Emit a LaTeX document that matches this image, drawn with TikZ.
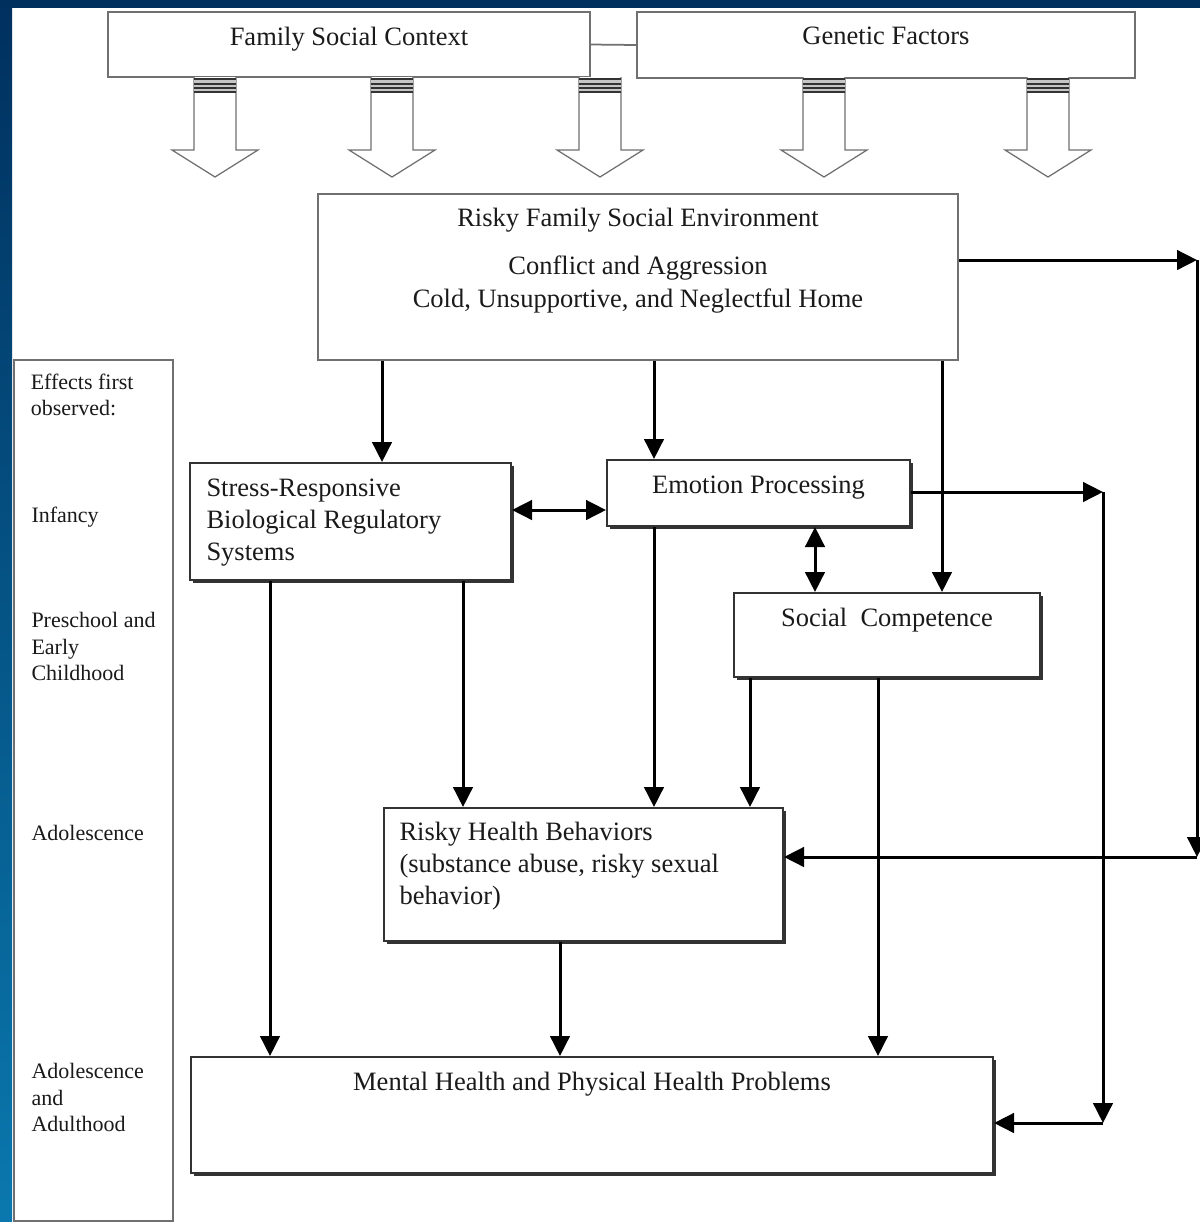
\documentclass[tikz,border=0pt]{standalone}
\usepackage{fontspec}
\setmainfont{Liberation Serif}
\usetikzlibrary{positioning, arrows.meta, fit, shadows}
\definecolor{slidenavy}{HTML}{00305E}
\definecolor{slideblue}{HTML}{0A78AE}
\definecolor{boxline}{HTML}{333333}
\definecolor{frameline}{HTML}{707070}
\definecolor{inkblack}{HTML}{1A1A1A}

\begin{document}
\begin{tikzpicture}[
    x=0.4pt, y=-0.4pt,
    font=\fontsize{10.6}{12.8}\selectfont,
    every node/.style={inner sep=0pt, text=inkblack},
    topbox/.style={draw=frameline, line width=0.7pt, fill=white},
    box/.style={
        draw=boxline, line width=0.8pt, fill=white,
        drop shadow={shadow xshift=1.1pt, shadow yshift=-1.1pt, fill=black!80, opacity=1}
    },
    panel/.style={draw=frameline, line width=0.6pt, fill=white},
    fatarrow/.style={draw=frameline, line width=0.5pt, fill=white},
    arrow/.style={
        -{Triangle[length=8pt, width=7.8pt]},
        line width=1.2pt, draw=black
    },
    twoway/.style={
        {Triangle[length=8pt, width=7.8pt]}-{Triangle[length=8pt, width=7.8pt]},
        line width=1.2pt, draw=black
    },
    link/.style={draw=frameline, line width=0.7pt},
    stagelabel/.style={font=\fontsize{8.8}{10.6}\selectfont, align=left}
]

% slide background
\fill[white] (0,0) rectangle (1200,1222);
\fill[slidenavy] (0,0) rectangle (1200,8);
\shade[top color=slidenavy, bottom color=slideblue] (0,0) rectangle (12,1222);
\useasboundingbox (0,0) rectangle (1200,1222);

% sources
\node[topbox, fit={(108,12) (590,77)}] (family) {};
\node[anchor=base] (familytext) at ([yshift=-13.6pt]family.north) {Family Social Context};
\node[topbox, fit={(637,12) (1135,78)}] (genetic) {};
\node[anchor=base] (genetictext) at ([yshift=-13.2pt]genetic.north) {Genetic Factors};
\draw[link] (family.east) -- (genetic.west);

\foreach \ax in {215, 392, 600, 824, 1048} {
    \draw[fatarrow] (\ax-21,77) -- (\ax-21,150) -- (\ax-43,150) -- (\ax,177)
        -- (\ax+43,150) -- (\ax+21,150) -- (\ax+21,77);
    \fill[gray!45] (\ax-21,78) rectangle (\ax+21,93);
    \foreach \sy in {79, 84, 88, 92}
        \draw[boxline, line width=0.5pt] (\ax-21,\sy) -- (\ax+21,\sy);
}

% family environment
\node[topbox, fit={(318,194) (958,360)}] (riskenv) {};
\node[anchor=base] (riskenvtitle) at ([yshift=-13.2pt]riskenv.north) {Risky Family Social Environment};
\node[below=24.8pt of riskenv.north, align=center, font=\fontsize{10.6}{13.2}\selectfont] (riskenvtext)
     {Conflict and Aggression\\Cold, Unsupportive, and Neglectful Home};

% developmental stages
\node[panel, fit={(14,360) (173,1221)}] (stages) {};
\node[stagelabel, below right=5.6pt and 6.8pt of stages.north west] (effects) {Effects first\\observed:};
\node[stagelabel, anchor=base west] (infancy) at (31,522) {Infancy};
\node[stagelabel, anchor=north west] (preschool) at (31,612) {Preschool and\\Early\\Childhood};
\node[stagelabel, anchor=base west] (adolescence) at (31,840) {Adolescence};
\node[stagelabel, anchor=north west] (adulthood) at (31,1063) {Adolescence\\and\\Adulthood};

% mediators and outcomes
\node[box, fit={(190,463) (511,580)}] (stress) {};
\node[below right=6.4pt and 6.8pt of stress.north west, align=left] (stresstext)
     {Stress-Responsive\\Biological Regulatory\\Systems};

\node[box, fit={(607,460) (910,526)}] (emotion) {};
\node[anchor=base] (emotiontext) at ([yshift=-13.6pt]emotion.north) {Emotion Processing};

\node[box, fit={(734,593) (1040,677)}] (social) {};
\node[anchor=base] (socialtext) at ([yshift=-13.6pt]social.north) {Social\ \ Competence};

\node[box, fit={(384,808) (783,941)}] (healthbeh) {};
\node[below right=6pt and 6.4pt of healthbeh.north west, align=left] (healthbehtext)
     {Risky Health Behaviors\\(substance abuse, risky sexual\\behavior)};

\node[box, fit={(191,1057) (993,1173)}] (outcomes) {};
\node[anchor=base] (outcomestext) at ([yshift=-13.6pt]outcomes.north) {Mental Health and Physical Health Problems};

% connector columns and rows
\coordinate (colA) at (270,0);
\coordinate (colB) at (382,0);
\coordinate (colC) at (463,0);
\coordinate (colD) at (560,0);
\coordinate (colE) at (654,0);
\coordinate (colF) at (750,0);
\coordinate (colG) at (815,0);
\coordinate (colH) at (878,0);
\coordinate (colI) at (942,0);
\coordinate (linkrow) at (0,510);
\coordinate (envturn) at (1197,260);
\coordinate (envdown) at (1197,857);
\coordinate (emoturn) at (1103,492);
\coordinate (emodown) at (1103,1123);

\draw[arrow] (riskenv.south -| colB) -- (stress.north -| colB);
\draw[arrow] (riskenv.south -| colE) -- (emotion.north -| colE);
\draw[arrow] (riskenv.south -| colI) -- (social.north -| colI);

\draw[twoway] (stress.east |- linkrow) -- (emotion.west |- linkrow);
\draw[twoway] (emotion.south -| colG) -- (social.north -| colG);

\draw[arrow] (stress.south -| colA) -- (outcomes.north -| colA);
\draw[arrow] (stress.south -| colC) -- (healthbeh.north -| colC);
\draw[arrow] (emotion.south -| colE) -- (healthbeh.north -| colE);
\draw[arrow] (social.south -| colF) -- (healthbeh.north -| colF);
\draw[arrow] (social.south -| colH) -- (outcomes.north -| colH);
\draw[arrow] (healthbeh.south -| colD) -- (outcomes.north -| colD);

\draw[arrow] (riskenv.east |- envturn) -- (envturn);
\draw[arrow] (envturn) -- (envdown);
\draw[arrow] (envdown) -- (healthbeh.east |- envdown);

\draw[arrow] (emotion.east |- emoturn) -- (emoturn);
\draw[arrow] (emoturn) -- (emodown);
\draw[arrow] (emodown) -- (outcomes.east |- emodown);

\end{tikzpicture}
\end{document}
